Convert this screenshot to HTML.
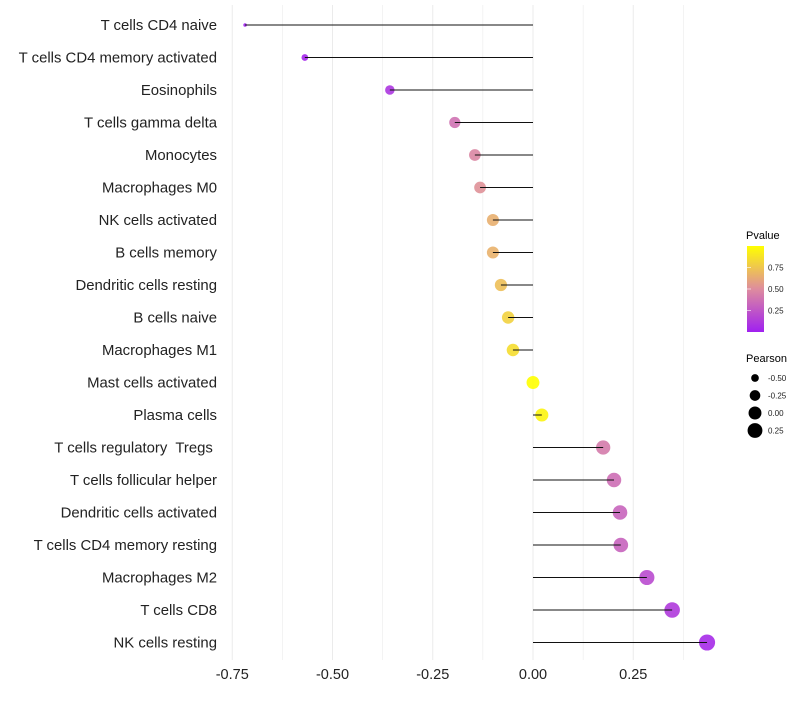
<!DOCTYPE html>
<html><head><meta charset="utf-8"><style>
body{margin:0;background:#fff}
svg text{font-family:"Liberation Sans",sans-serif;white-space:pre}
</style></head><body>
<svg id="chart" width="800" height="700" xmlns="http://www.w3.org/2000/svg">
<g id="grid"></g>
<g id="ylabels"></g>
<g id="points"></g>
<g id="lines"></g>
<g id="xlabels"></g>
<g id="legend">
<defs><linearGradient id="pg" x1="0" y1="1" x2="0" y2="0">
<stop offset="0" stop-color="#A020F0"/><stop offset="0.5" stop-color="#DE8C9E"/><stop offset="1" stop-color="#FFFF00"/></linearGradient></defs>
<text x="746" y="239" font-size="11">Pvalue</text>
<rect x="747" y="246" width="17" height="86" fill="url(#pg)"/>
<text x="746" y="362" font-size="11">Pearson</text>
</g>
</svg>
<script>
const categories=["T cells CD4 naive","T cells CD4 memory activated","Eosinophils","T cells gamma delta","Monocytes","Macrophages M0","NK cells activated","B cells memory","Dendritic cells resting","B cells naive","Macrophages M1","Mast cells activated","Plasma cells","T cells regulatory  Tregs ","T cells follicular helper","Dendritic cells activated","T cells CD4 memory resting","Macrophages M2","T cells CD8","NK cells resting"];
const pearson=[-0.718,-0.569,-0.357,-0.195,-0.145,-0.132,-0.10,-0.10,-0.08,-0.062,-0.05,0.0,0.022,0.175,0.202,0.217,0.219,0.284,0.347,0.434];
const pvalue=[0.0,0.03,0.1,0.38,0.47,0.52,0.65,0.66,0.72,0.8,0.85,1.0,0.95,0.42,0.36,0.32,0.31,0.2,0.12,0.05];
const xTicks=[-0.75,-0.5,-0.25,0,0.25];
const xTickLabels=["-0.75","-0.50","-0.25","0.00","0.25"];
const pvTicks=[0.25,0.5,0.75];
const sizeTicks=[-0.5,-0.25,0,0.25];
const NS="http://www.w3.org/2000/svg";
function X(v){return 533+v*401;}
function Y(i){return 25+i*32.5;}
function R(p){return 1.15*Math.sqrt(Math.max(1.8,31.5+40.6*p));}
function col(t){
 const a=[160,32,240],m=[222,140,158],b=[255,255,0];let c;
 if(t<0.5){const k=t/0.5;c=a.map((v,j)=>v+(m[j]-v)*k);}else{const k=(t-0.5)/0.5;c=m.map((v,j)=>v+(b[j]-v)*k);}
 return `rgb(${c.map(Math.round).join(",")})`;}
function mk(tag,attrs,parent){const e=document.createElementNS(NS,tag);for(const k in attrs)e.setAttribute(k,attrs[k]);document.getElementById(parent).appendChild(e);return e;}
for(let v=-0.75;v<=0.376;v+=0.125){
 const g=mk("line",{x1:X(v),x2:X(v),y1:5,y2:660,stroke:"#ebebeb","stroke-width":Math.abs((v*4)%1)<0.01?1:0.6},"grid");
 
 
}
xTicks.forEach((v,i)=>{
 const t=mk("text",{x:X(v),y:679,"font-size":14.5,"text-anchor":"middle",fill:"#222"},"xlabels");
 t.textContent=xTickLabels[i];
 
 
});
categories.forEach((c,i)=>{
 const t=mk("text",{x:217,y:Y(i)+5,"font-size":14.9,"text-anchor":"end",fill:"#222"},"ylabels");
 t.textContent=c;
 
 
 const p=mk("circle",{cx:X(pearson[i]),cy:Y(i),r:R(pearson[i]),fill:col(pvalue[i]),"fill-opacity":0.9},"points");
 
 
 const l=mk("line",{x1:X(0),x2:X(pearson[i]),y1:Y(i),y2:Y(i),stroke:"#111","stroke-width":1},"lines");
 
 
});
pvTicks.forEach(v=>{
 const y=332-v*86;
 const t=mk("text",{x:768,y:y+3,"font-size":8,fill:"#222"},"legend");
 t.textContent=v.toFixed(2);
 
 
 const tk=mk("line",{x1:747,x2:751,y1:y,y2:y,stroke:"#fff","stroke-opacity":0.6},"legend");
 
 
});
sizeTicks.forEach((v,i)=>{
 const y=378+i*17.5;
 const c=mk("circle",{cx:755,cy:y,r:R(v),fill:"#000"},"legend");
 
 
 const t=mk("text",{x:768,y:y+3,"font-size":8,fill:"#222"},"legend");
 t.textContent=v.toFixed(2);
 
 
});
</script>
</body></html>
